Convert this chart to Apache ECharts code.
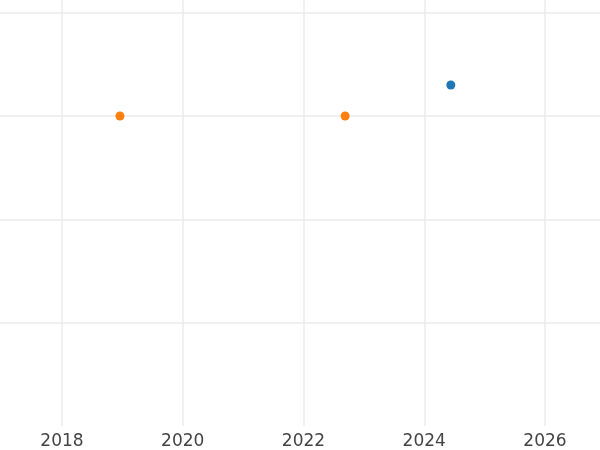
<!DOCTYPE html>
<html>
<head>
<meta charset="utf-8">
<script src="https://cdn.jsdelivr.net/npm/echarts@6/dist/echarts.min.js"></script>
<style>
html,body{margin:0;padding:0;background:#fff;}
#c{width:600px;height:450px;}
</style>
</head>
<body>
<div id="c"></div>
<script>
// Data
const blueX = [2024.44];
const blueY = [3.30];
const orangeX = [2018.96, 2022.69];
const orangeY = [3.0, 3.0];
const xTicks = [2018, 2020, 2022, 2024, 2026];

const blueData = blueX.map((x, i) => [x, blueY[i]]);
const orangeData = orangeX.map((x, i) => [x, orangeY[i]]);

const chart = echarts.init(document.getElementById('c'), null, {renderer: 'canvas'});
chart.setOption({
  backgroundColor: '#ffffff',
  animation: false,
  grid: {left: 0, right: 0, top: 0, bottom: 22, containLabel: false},
  xAxis: {
    type: 'value',
    min: 2016.973,
    max: 2026.911,
    axisLine: {show: false},
    axisTick: {show: false, customValues: xTicks},
    axisLabel: {
      customValues: xTicks,
      formatter: v => String(v),
      color: '#444444',
      fontSize: 17,
      fontFamily: 'DejaVu Sans',
      margin: 7
    },
    splitLine: {show: true, lineStyle: {color: '#ebebeb', width: 1.5}}
  },
  yAxis: {
    type: 'value',
    min: 0,
    max: 4.122,
    interval: 1,
    axisLine: {show: false},
    axisTick: {show: false},
    axisLabel: {show: false},
    splitLine: {show: true, showMinLine: false, showMaxLine: false, lineStyle: {color: '#ebebeb', width: 1.5}}
  },
  series: [
    {
      type: 'scatter',
      data: blueData,
      symbolSize: 9,
      itemStyle: {color: '#1f77b4', opacity: 1}
    },
    {
      type: 'scatter',
      data: orangeData,
      symbolSize: 9,
      itemStyle: {color: '#ff7f0e', opacity: 1}
    }
  ]
});
</script>
</body>
</html>
